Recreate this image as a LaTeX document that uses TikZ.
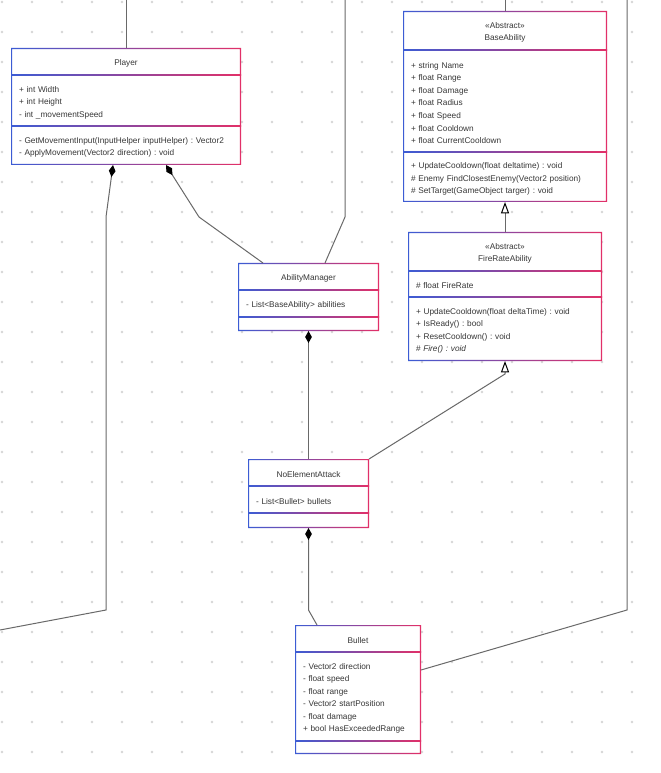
\documentclass[tikz,border=0pt]{standalone}
\usepackage{fontspec}
\setmainfont{Liberation Sans}
\usetikzlibrary{positioning,arrows.meta}
\frenchspacing

\definecolor{umlblue}{RGB}{60,92,212}
\definecolor{umlred}{RGB}{226,48,104}
\definecolor{linkgray}{RGB}{105,105,105}
\definecolor{dotgray}{RGB}{214,214,214}
\definecolor{textgray}{RGB}{55,55,55}

\tikzset{
  part/.style={fill=white, inner xsep=6pt, inner ysep=0pt, outer sep=0pt,
    text=textgray, font=\fontsize{6.2}{9.4}\selectfont,
    execute at begin node={\rule{0pt}{7.5pt}}},
  titlepart/.style={part, align=center},
  listpart/.style={part, align=left},
  classedge/.style={left color=umlblue, right color=umlred},
  link/.style={draw=linkgray, line width=0.75pt},
  owns/.style={link, -{Diamond[length=9pt,width=5pt,color=black]}},
  extends/.style={link, -{Triangle[length=8.5pt,width=6pt,color=black,fill=white]}},
}

% gradient border and compartment lines of a class (name-t, name-a, name-m)
\newcommand\classframe[1]{%
  \shade[classedge,even odd rule] (#1-t.north west) rectangle (#1-m.south east)
    ([shift={(1.2,1.2)}]#1-t.north west) rectangle ([shift={(-1.2,-1.2)}]#1-m.south east);
  \shade[classedge] ([shift={(0,-0.5)}]#1-a.north west) rectangle ([shift={(0,0.5)}]#1-a.north east);
  \shade[classedge] ([shift={(0,-0.5)}]#1-m.north west) rectangle ([shift={(0,0.5)}]#1-m.north east);
}

\begin{document}
\begin{tikzpicture}[x=0.75pt,y=-0.75pt]
  \fill[white] (0,0) rectangle (660,773);
  \useasboundingbox (0,0) rectangle (660,773);
  % dot grid
  \foreach \i in {0,...,21}
  \foreach \j in {0,...,25}
    \fill[dotgray] (2+30*\i,2+30*\j) circle (1pt);

  % Player
  \node[titlepart, text width=160.5pt, minimum height=20.25pt, anchor=north west] (player-t) at (11,48) {Player};
  \node[listpart, text width=160.5pt, minimum height=38.25pt, below=0pt of player-t] (player-a)
    {+ int Width\\+ int Height\\- int \_movementSpeed};
  \node[listpart, text width=160.5pt, minimum height=29.25pt, below=0pt of player-a] (player-m)
    {- GetMovementInput(InputHelper inputHelper) : Vector2\\- ApplyMovement(Vector2 direction) : void};
  \classframe{player}

  % BaseAbility
  \node[titlepart, text width=141pt, minimum height=29.25pt, anchor=north west] (base-t) at (403,11) {«Abstract»\\BaseAbility};
  \node[listpart, text width=141pt, minimum height=76.5pt, below=0pt of base-t] (base-a)
    {+ string Name\\+ float Range\\+ float Damage\\+ float Radius\\+ float Speed\\+ float Cooldown\\+ float CurrentCooldown};
  \node[listpart, text width=141pt, minimum height=37.5pt, below=0pt of base-a] (base-m)
    {+ UpdateCooldown(float deltatime) : void\\\# Enemy FindClosestEnemy(Vector2 position)\\\# SetTarget(GameObject targer) : void};
  \classframe{base}

  % FireRateAbility
  \node[titlepart, text width=133.5pt, minimum height=29.25pt, anchor=north west] (fire-t) at (408,232) {«Abstract»\\FireRateAbility};
  \node[listpart, text width=133.5pt, minimum height=19.5pt, below=0pt of fire-t] (fire-a) {\# float FireRate};
  \node[listpart, text width=133.5pt, minimum height=48pt, below=0pt of fire-a] (fire-m)
    {+ UpdateCooldown(float deltaTime) : void\\+ IsReady() : bool\\+ ResetCooldown() : void\\\# \textit{Fire() : void}};
  \classframe{fire}

  % AbilityManager
  \node[titlepart, text width=93.75pt, minimum height=20.25pt, anchor=north west] (mgr-t) at (238,263) {AbilityManager};
  \node[listpart, text width=93.75pt, minimum height=20.25pt, below=0pt of mgr-t] (mgr-a) {- List<BaseAbility> abilities};
  \node[listpart, text width=93.75pt, minimum height=10.5pt, below=0pt of mgr-a] (mgr-m) {};
  \classframe{mgr}

  % NoElementAttack
  \node[titlepart, text width=78.75pt, minimum height=20.25pt, anchor=north west] (noel-t) at (248,459) {NoElementAttack};
  \node[listpart, text width=78.75pt, minimum height=20.25pt, below=0pt of noel-t] (noel-a) {- List<Bullet> bullets};
  \node[listpart, text width=78.75pt, minimum height=11.25pt, below=0pt of noel-a] (noel-m) {};
  \classframe{noel}

  % Bullet
  \node[titlepart, text width=82.5pt, minimum height=20.25pt, anchor=north west] (bullet-t) at (295,625) {Bullet};
  \node[listpart, text width=82.5pt, minimum height=66.75pt, below=0pt of bullet-t] (bullet-a)
    {- Vector2 direction\\- float speed\\- float range\\- Vector2 startPosition\\- float damage\\+ bool HasExceededRange};
  \node[listpart, text width=82.5pt, minimum height=9.75pt, below=0pt of bullet-a] (bullet-m) {};
  \classframe{bullet}

  % connectors
  \coordinate (playerin) at (126,0);
  \coordinate (basein) at (505,0);
  \coordinate (mgrin) at (345,0);
  \coordinate (bulletout) at (627,0);
  \coordinate (playerout) at (0,630);
  \draw[link] (playerin) -- (player-t.north);
  \draw[link] (basein) -- (base-t.north);
  \draw[extends] (fire-t.north) -- (base-m.south);
  \draw[extends] (noel-t.north east) -- (505,374) -- (fire-m.south);
  \draw[owns] (playerout) -- (106,610) -- (106,217) -- ([shift={(102,0)}]player-m.south west);
  \draw[owns] ([shift={(25,0)}]mgr-t.north west) -- (199,217) -- ([shift={(155,0)}]player-m.south west);
  \draw[link] (mgrin) -- (345,217) -- ([shift={(87,0)}]mgr-t.north west);
  \draw[owns] (noel-t.north) -- (mgr-m.south);
  \draw[owns] ([shift={(22,0)}]bullet-t.north west) -- (308.5,610) -- (noel-m.south);
  \draw[link] ([shift={(0,18)}]bullet-a.north east) -- (627,610) -- (bulletout);
\end{tikzpicture}
\end{document}
